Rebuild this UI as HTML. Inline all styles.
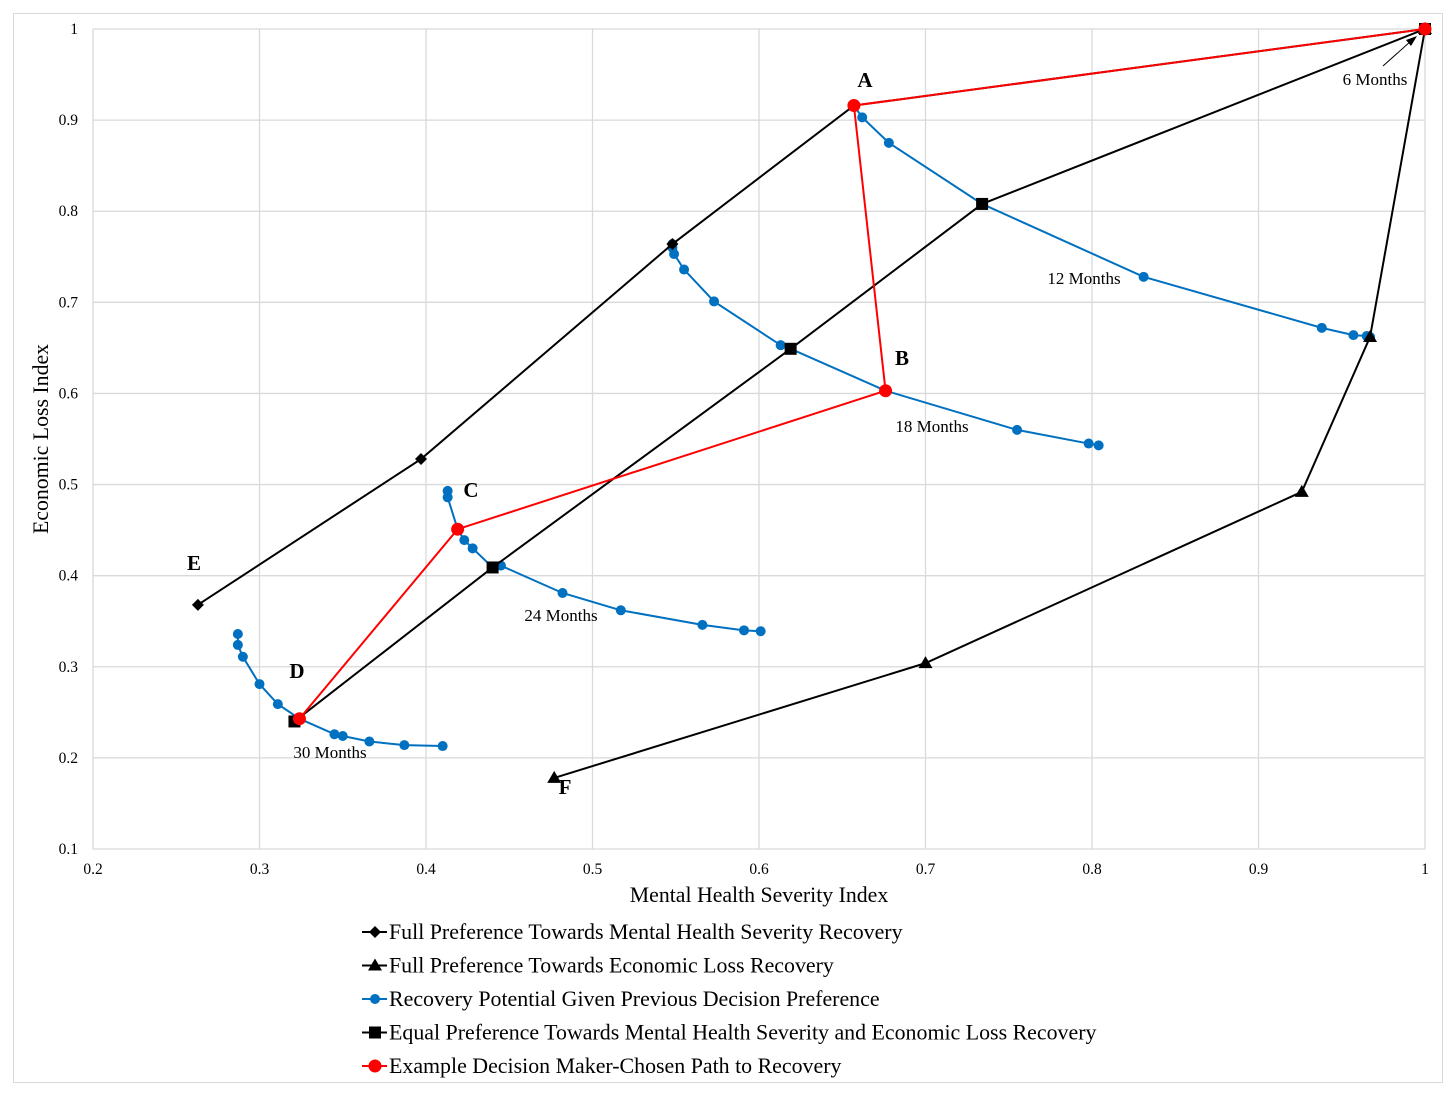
<!DOCTYPE html>
<html><head><meta charset="utf-8"><style>
html,body{margin:0;padding:0;background:#fff;}
svg{display:block;font-family:"Liberation Serif",serif;}
</style></head><body>
<svg id="chart" width="1456" height="1097">
<rect x="13.5" y="13.5" width="1429" height="1069" fill="#fff" stroke="#d9d9d9"/>
<g id="grid"></g><g id="marks"></g><g id="labels"></g>
<text x="759" y="902" font-size="21.8" text-anchor="middle">Mental Health Severity Index</text>
<text transform="translate(48,439) rotate(-90)" font-size="21.8" text-anchor="middle">Economic Loss Index</text>
<g id="legend"></g>
</svg>
<script>
const xTicks=[0.2,0.3,0.4,0.5,0.6,0.7,0.8,0.9,1];
const xTickLabels=["0.2","0.3","0.4","0.5","0.6","0.7","0.8","0.9","1"];
const yTicks=[0.1,0.2,0.3,0.4,0.5,0.6,0.7,0.8,0.9,1];
const yTickLabels=["0.1","0.2","0.3","0.4","0.5","0.6","0.7","0.8","0.9","1"];
const mhX=[1,0.657,0.548,0.397,0.263];
const mhY=[1,0.916,0.764,0.528,0.368];
const elX=[1,0.967,0.926,0.700,0.477];
const elY=[1,0.662,0.492,0.304,0.178];
const eqX=[1,0.734,0.619,0.440,0.321];
const eqY=[1,0.808,0.649,0.409,0.240];
const redX=[1,0.657,0.676,0.419,0.324];
const redY=[1,0.916,0.603,0.451,0.243];
const b12X=[0.657,0.662,0.678,0.734,0.831,0.938,0.957,0.965,0.967];
const b12Y=[0.916,0.903,0.875,0.808,0.728,0.672,0.664,0.663,0.662];
const b18X=[0.548,0.548,0.549,0.555,0.573,0.613,0.619,0.676,0.755,0.798,0.804];
const b18Y=[0.764,0.760,0.753,0.736,0.701,0.653,0.649,0.603,0.560,0.545,0.543];
const b24X=[0.413,0.413,0.419,0.423,0.428,0.440,0.445,0.482,0.517,0.566,0.591,0.601];
const b24Y=[0.493,0.486,0.451,0.439,0.430,0.409,0.411,0.381,0.362,0.346,0.340,0.339];
const b30X=[0.287,0.287,0.290,0.300,0.311,0.324,0.345,0.350,0.366,0.387,0.410];
const b30Y=[0.336,0.324,0.311,0.281,0.259,0.243,0.226,0.224,0.218,0.214,0.213];
const NS="http://www.w3.org/2000/svg";
const X0=93,X1=1425,Y0=849,Y1=29;
function sx(v){return X0+(v-0.2)/0.8*(X1-X0);}
function sy(v){return Y0-(v-0.1)/0.9*(Y0-Y1);}
function mk(tag,attrs,parent){const e=document.createElementNS(NS,tag);for(const k in attrs)e.setAttribute(k,attrs[k]);parent.appendChild(e);return e;}
const grid=document.getElementById('grid'),marks=document.getElementById('marks'),labels=document.getElementById('labels'),legend=document.getElementById('legend');
xTicks.forEach((t,i)=>{
 const l=mk('line',{x1:sx(t),x2:sx(t),y1:Y1,y2:Y0,stroke:'#d9d9d9','stroke-width':1.3},grid);
 
 
 const tx=mk('text',{x:sx(t),y:874,'font-size':15.5,'text-anchor':'middle'},grid);tx.textContent=xTickLabels[i];
 
 
});
yTicks.forEach((t,i)=>{
 const l=mk('line',{x1:X0,x2:X1,y1:sy(t),y2:sy(t),stroke:'#d9d9d9','stroke-width':1.3},grid);
 
 
 const tx=mk('text',{x:78,y:sy(t)+5,'font-size':15.5,'text-anchor':'end'},grid);tx.textContent=yTickLabels[i];
 
 
});
function marker(type,x,y,color,g,s){
 let e;
 if(type==='circle')e=mk('circle',{cx:x,cy:y,r:s||5,fill:color},g);
 else if(type==='square')e=mk('rect',{x:x-6,y:y-6,width:12,height:12,fill:color},g);
 else if(type==='diamond')e=mk('polygon',{points:`${x},${y-6} ${x+6},${y} ${x},${y+6} ${x-6},${y}`,fill:color},g);
 else e=mk('polygon',{points:`${x},${y-7} ${x+7},${y+5} ${x-7},${y+5}`,fill:color},g);
 return e;
}
function series(xs,ys,color,type,name,w,r){
 const g=mk('g',{},marks);
 
 
 const pl=mk('polyline',{points:xs.map((v,i)=>sx(v)+','+sy(ys[i])).join(' '),fill:'none',stroke:color,'stroke-width':w||2},g);
 
 
 xs.forEach((v,i)=>{const m=marker(type,sx(v),sy(ys[i]),color,g,r);
  
  });
}
series(b12X,b12Y,'#0070c0','circle','recovery-12-months',2,5);
series(b18X,b18Y,'#0070c0','circle','recovery-18-months',2,5);
series(b24X,b24Y,'#0070c0','circle','recovery-24-months',2,5);
series(b30X,b30Y,'#0070c0','circle','recovery-30-months',2,5);
series(mhX,mhY,'#000','diamond','mental-health-preference-series',2);
series(elX,elY,'#000','triangle','economic-loss-preference-series',2);
series(eqX,eqY,'#000','square','equal-preference-series',2);
series(redX,redY,'#ff0000','circle','decision-maker-path-series',2,6.5);
const pts=[['A',865,87],['B',902,365],['C',471,497],['D',297,678],['E',194,570],['F',565,794]];
pts.forEach(p=>{const t=mk('text',{x:p[1],y:p[2],'font-size':21,'font-weight':'bold','text-anchor':'middle'},labels);t.textContent=p[0];
 
 });
const months=[['6 Months',1375,85],['12 Months',1084,284],['18 Months',932,432],['24 Months',561,621],['30 Months',330,758]];
months.forEach(m=>{const t=mk('text',{x:m[1],y:m[2],'font-size':17,'text-anchor':'middle'},labels);t.textContent=m[0];
 
 });
const ar=mk('line',{x1:1383,y1:66,x2:1411,y2:41,stroke:'#000','stroke-width':1},labels);


const ah=mk('polygon',{points:'1417,36 1406,40 1411,46',fill:'#000'},labels);


const legTypes=['diamond','triangle','circle','square','circle'];
const legColors=['#000','#000','#0070c0','#000','#ff0000'];
const legText=['Full Preference Towards Mental Health Severity Recovery','Full Preference Towards Economic Loss Recovery','Recovery Potential Given Previous Decision Preference','Equal Preference Towards Mental Health Severity and Economic Loss Recovery','Example Decision Maker-Chosen Path to Recovery'];
legText.forEach((s,i)=>{
 const y=932+i*33.5;
 const g=mk('g',{},legend);
 
 
 mk('line',{x1:362,x2:387,y1:y,y2:y,stroke:legColors[i],'stroke-width':2},g);
 marker(legTypes[i],375,y,legColors[i],g,i===4?6.5:5);
 const t=mk('text',{x:389,y:y+7,'font-size':21.9},g);t.textContent=s;
});
</script>
</body></html>
